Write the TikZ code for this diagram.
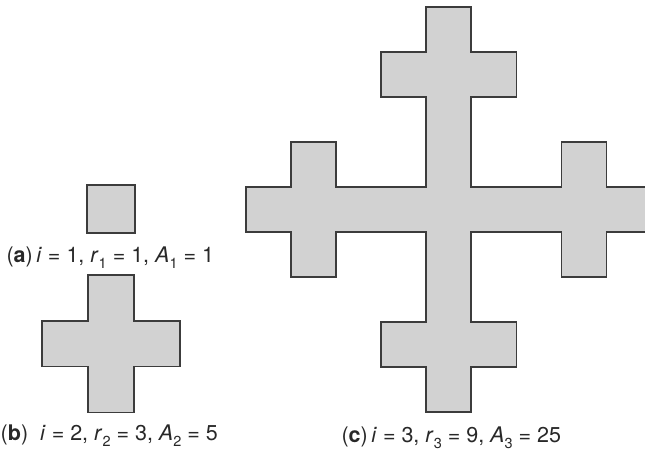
\documentclass[tikz,border=0pt]{standalone}
\usepackage{fontspec}
\setmainfont{TeX Gyre Heros}
\definecolor{shapegray}{RGB}{210,210,210}
\definecolor{edgegray}{RGB}{60,60,60}
\definecolor{textgray}{RGB}{40,40,40}
\newcommand\subs[1]{\raisebox{-0.28em}{\fontsize{14.5}{14.5}\selectfont #1}}
\begin{document}
\begin{tikzpicture}[x=1pt,y=-1pt,
  fractal/.style={fill=shapegray,draw=edgegray,line width=1.8pt,line join=miter},
  lab/.style={anchor=base,inner sep=0pt,text=textgray,font=\fontsize{21.5}{24}\selectfont}]
\useasboundingbox (0,0) rectangle (645,450);
\begin{scope}
\clip (0,0) rectangle (645,450);
% (a) single square
\draw[fractal] (87.3,185.3) rectangle (134.7,232.7);
% (b) cross
\begin{scope}[xshift=42.3pt,yshift=-274.7pt,x=45.9pt,y=-45.9pt]
\draw[fractal] (1,0) -- (2,0) -- (2,1) -- (3,1) -- (3,2) -- (2,2) -- (2,3) -- (1,3) -- (1,2) -- (0,2) -- (0,1) -- (1,1) -- cycle;
\end{scope}
% (c) level-3 shape
\begin{scope}[xshift=246pt,yshift=-6.7pt,x=45.07pt,y=-45.07pt]
\draw[fractal] (4,0) -- (5,0) -- (5,1) -- (6,1) -- (6,2) -- (5,2) -- (5,4) -- (7,4) -- (7,3) -- (8,3) -- (8,4) -- (9,4) -- (9,5) -- (8,5) -- (8,6) -- (7,6) -- (7,5) -- (5,5) -- (5,7) -- (6,7) -- (6,8) -- (5,8) -- (5,9) -- (4,9) -- (4,8) -- (3,8) -- (3,7) -- (4,7) -- (4,5) -- (2,5) -- (2,6) -- (1,6) -- (1,5) -- (0,5) -- (0,4) -- (1,4) -- (1,3) -- (2,3) -- (2,4) -- (4,4) -- (4,2) -- (3,2) -- (3,1) -- (4,1) -- cycle;
\end{scope}
\end{scope}
% labels
\node[lab] (la) at (110.3,262) {(\textbf{a})\,\textit{i} = 1, \textit{r}\subs{1} = 1, \textit{A}\subs{1} = 1};
\node[lab] (lb) at (109.3,440) {(\textbf{b})\ \ \textit{i} = 2, \textit{r}\subs{2} = 3, \textit{A}\subs{2} = 5};
\node[lab] (lc) at (451.3,442) {(\textbf{c})\,\textit{i} = 3, \textit{r}\subs{3} = 9, \textit{A}\subs{3} = 25};
\end{tikzpicture}
\end{document}
